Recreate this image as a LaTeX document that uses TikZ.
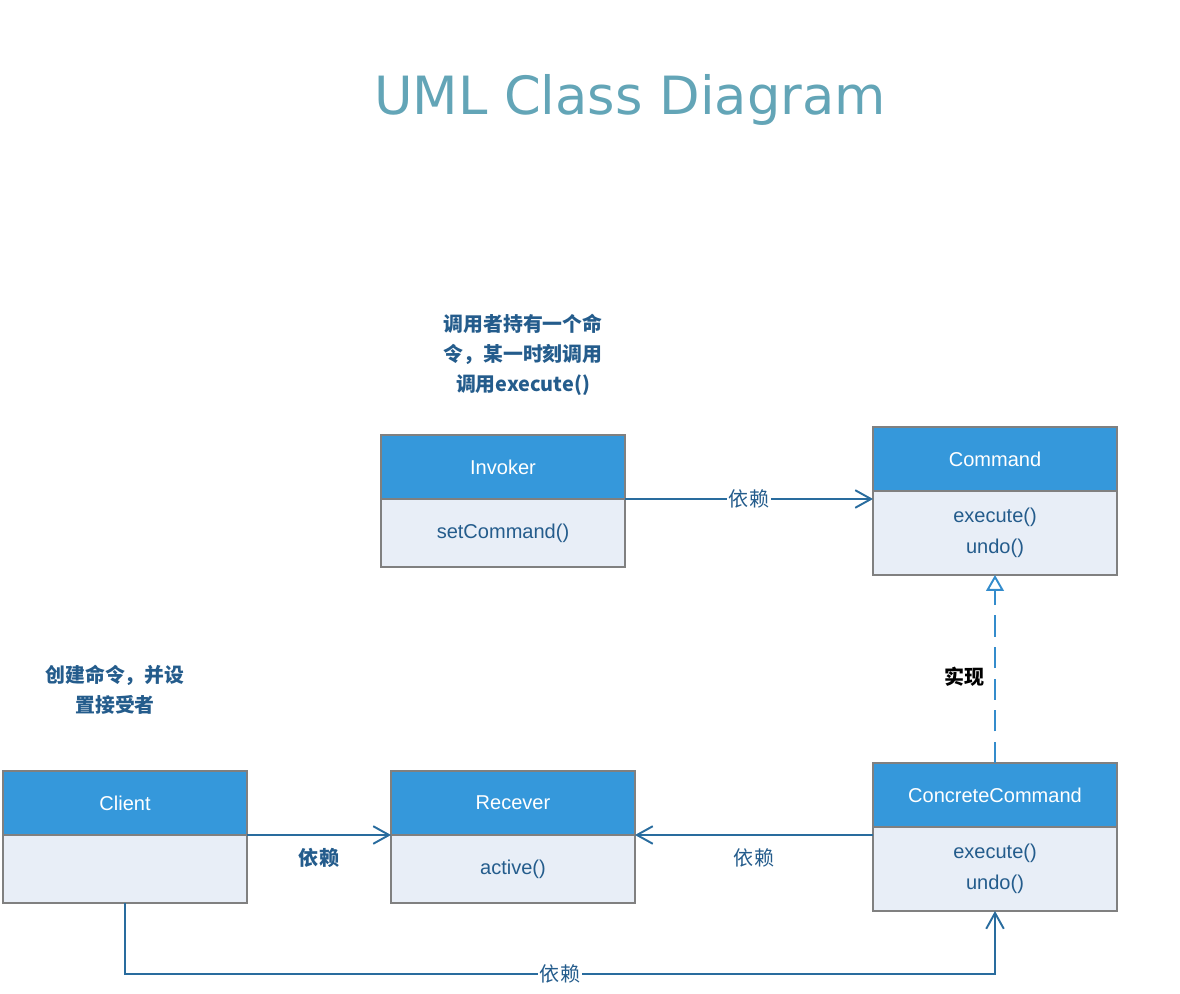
\documentclass[tikz,border=0pt]{standalone}
\usepackage{fontspec}
\setmainfont{Liberation Sans}
\newfontfamily\cjk{Noto Sans CJK SC}
\newfontfamily\titlefont{DejaVu Sans}
\usetikzlibrary{arrows.meta, positioning}

\begin{document}
\begin{tikzpicture}[x=0.02cm, y=-0.02cm,
    every node/.style={font=\fontsize{11.4}{18}\selectfont},
    classhead/.style={draw=bordergray, line width=1pt, fill=headblue, text=white,
        minimum width=4.88cm, minimum height=1.28cm, inner sep=0pt, outer sep=0pt},
    classbody/.style={draw=bordergray, line width=1pt, fill=bodyblue, text=textblue,
        minimum width=4.88cm, align=center, inner sep=0pt, outer sep=0pt, below=0pt of #1},
    dep/.style={draw=lineblue, line width=1.1pt, -{Straight Barb[length=9pt, width=10pt]}},
    deplabel/.style={font=\cjk\fontsize{11.4}{14}\selectfont, text=textblue, inner sep=1pt},
    note/.style={font=\cjk\bfseries\fontsize{11.3}{17}\selectfont, text=textblue, align=center}]
    % Define consistent colors
    \definecolor{headblue}{RGB}{53,152,219}
    \definecolor{bodyblue}{RGB}{232,238,247}
    \definecolor{bordergray}{RGB}{128,128,128}
    \definecolor{textblue}{RGB}{36,92,140}
    \definecolor{lineblue}{RGB}{41,108,158}
    \definecolor{dashblue}{RGB}{52,140,204}
    \definecolor{titleblue}{RGB}{99,165,183}

    \useasboundingbox (0,0) rectangle (1180,994);

    % Title
    \node[font=\titlefont\fontsize{30}{36}\selectfont, text=titleblue] (title) at (630,100) {UML Class Diagram};

    % Classes
    \node[classhead] (invhead) at (503,467) {Invoker};
    \node[classbody=invhead, minimum height=1.36cm] (invbody) {setCommand()};
    \node[classhead] (cmdhead) at (995,459) {Command};
    \node[classbody=cmdhead, minimum height=1.68cm] (cmdbody) {execute()\\undo()};
    \node[classhead] (clihead) at (125,803) {Client};
    \node[classbody=clihead, minimum height=1.36cm] (clibody) {};
    \node[classhead] (rechead) at (513,803) {Recever};
    \node[classbody=rechead, minimum height=1.36cm] (recbody) {active()};
    \node[classhead] (cchead) at (995,795) {ConcreteCommand};
    \node[classbody=cchead, minimum height=1.68cm] (ccbody) {execute()\\undo()};

    % Notes
    \node[note] (invnote) at (523,355) {调用者持有一个命\\令，某一时刻调用\\调用execute()};
    \node[note] (clinote) at (115,690) {创建命令，并设\\置接受者};

    % Dependencies
    \draw[dep] (invhead.south east) -- (invhead.south east -| cmdbody.west)
        node[midway, deplabel, fill=white] {依赖};
    \draw[dep] (clihead.south east) -- (rechead.south west)
        node[midway, below=6pt, deplabel, font=\cjk\bfseries\fontsize{11.4}{14}\selectfont] {依赖};
    \draw[dep] (rechead.south east -| ccbody.west) -- (rechead.south east)
        node[midway, below=6pt, deplabel] {依赖};
    \draw[dep] (clibody.south) -- ++(0,71) -| (ccbody.south)
        node[pos=0.25, deplabel, fill=white] {依赖};

    % Realization
    \draw[draw=dashblue, line width=1.1pt, dash pattern=on 12pt off 6pt,
        -{Triangle[open, length=9pt, width=10pt]}] (cchead.north) -- (cmdbody.south)
        node[pos=0.46, left=2pt, font=\cjk\bfseries\fontsize{11.4}{14}\selectfont, text=black] {实现};
\end{tikzpicture}
\end{document}
